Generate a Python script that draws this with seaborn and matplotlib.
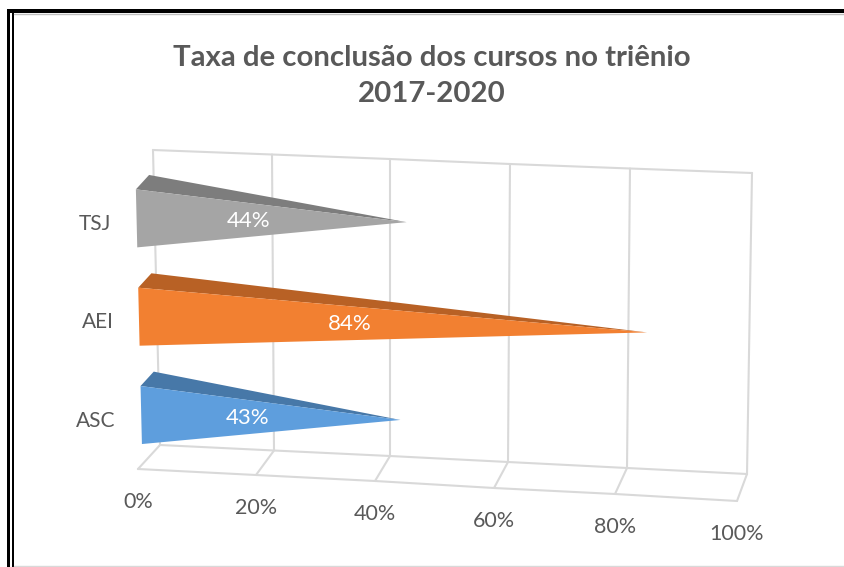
import matplotlib
matplotlib.use('Agg')
import matplotlib.pyplot as plt
from matplotlib.patches import Polygon, Rectangle
import numpy as np
import pandas as pd
import seaborn as sns

# Chart data
categories = ['TSJ', 'AEI', 'ASC']
values = [44, 84, 43]
value_labels = ['44%', '84%', '43%']
ticks = [0, 20, 40, 60, 80, 100]
tick_labels = ['0%', '20%', '40%', '60%', '80%', '100%']
colors = ['#A5A5A5', '#F28031', '#5E9EDD']
title = 'Taxa de conclusão dos cursos no triênio\n2017-2020'

# Perspective box, in image pixels, sampled at each tick
top_x = [153, 272, 390, 510, 630, 752]
top_y = [150, 154.5, 159, 164, 168.5, 173]
back_x = [160, 274, 390, 508, 627, 747]
back_y = [445, 450.5, 456, 462, 468, 474]
front_x = [138, 256, 375, 494, 615, 737]
front_y = [469, 475, 481, 488, 494, 501]


def project(v, h, d):
    # v = value, h = height in the wall (0-1), d = depth (0 front, 1 back)
    bx, by = np.interp(v, ticks, back_x), np.interp(v, ticks, back_y)
    tx, ty = np.interp(v, ticks, top_x), np.interp(v, ticks, top_y)
    fx, fy = np.interp(v, ticks, front_x), np.interp(v, ticks, front_y)
    x = bx + (tx - bx) * h + (fx - bx) * (1 - d)
    y = by + (ty - by) * h + (fy - by) * (1 - d)
    return x, y


sns.set_theme(style='white')
plt.rcParams['font.family'] = ['Lato', 'DejaVu Sans']

df = pd.DataFrame({'curso': categories, 'taxa': values})

fig = plt.figure(figsize=(8.45, 5.67), dpi=100)

# Bars come from seaborn on a hidden axes, then get projected as cones
ax_bars = fig.add_axes([0, 0, 1, 1])
sns.barplot(data=df, x='taxa', y='curso', hue='curso', palette=colors,
            width=0.59, legend=False, ax=ax_bars)
ax_bars.set_visible(False)

ax = fig.add_axes([0, 0, 1, 1])
ax.set_xlim(0, 845)
ax.set_ylim(567, 0)
ax.axis('off')

# Grid
grid_color = '#D9D9D9'
for t in ticks:
    pts = [project(t, 1, 1), project(t, 0, 1), project(t, 0, 0)]
    ax.plot(*zip(*pts), color=grid_color, lw=1.5, zorder=1)
for h, d in [(1, 1), (0, 1), (0, 0)]:
    pts = [project(t, h, d) for t in ticks]
    ax.plot(*zip(*pts), color=grid_color, lw=1.5, zorder=1)

# Cones
for i, bar in enumerate(ax_bars.patches[:len(categories)]):
    v = bar.get_width()
    low = (2.5 - (bar.get_y() + bar.get_height())) / 3
    high = (2.5 - bar.get_y()) / 3
    mid = (low + high) / 2
    tip = project(v, mid, 0.5)
    face = np.array(matplotlib.colors.to_rgb(colors[i]))
    top_face = [project(0, high, 0.2), project(0, high, 0.8), tip]
    front_face = [project(0, low, 0.2), project(0, high, 0.2), tip]
    ax.add_patch(Polygon(top_face, closed=True, color=face * 0.76, lw=0, zorder=2))
    ax.add_patch(Polygon(front_face, closed=True, color=face, lw=0, zorder=3))
    lx, ly = project(v * 0.42, mid, 0.2)
    ax.text(lx, ly - 2, value_labels[i], color='white', fontsize=16,
            ha='center', va='center', zorder=4)
    cx, cy = project(0, mid, 0)
    ax.text(cx - 21, cy + 1, categories[i], color='#595959', fontsize=15,
            ha='right', va='center')

# Value axis labels
for t, lab in zip(ticks, tick_labels):
    x, y = project(t, 0, 0)
    ax.text(x, y + 33, lab, color='#595959', fontsize=15.5, ha='center', va='center')

ax.text(432, 76, title, color='#595959', fontsize=21.2, fontweight='bold',
        ha='center', va='center', linespacing=1.45)

# Double frame around the picture
ax.add_patch(Rectangle((7, 9), 838, 4, color='black', lw=0, zorder=5))
ax.add_patch(Rectangle((7, 9), 3.5, 558, color='black', lw=0, zorder=5))
ax.add_patch(Rectangle((12, 11), 2, 556, color='black', lw=0, zorder=5))
ax.plot([14, 845], [14, 14], color='#BFBFBF', lw=1, zorder=5)
ax.plot([14, 845], [566, 566], color='#D9D9D9', lw=1, zorder=5)

fig.savefig('out.png', dpi=100)
